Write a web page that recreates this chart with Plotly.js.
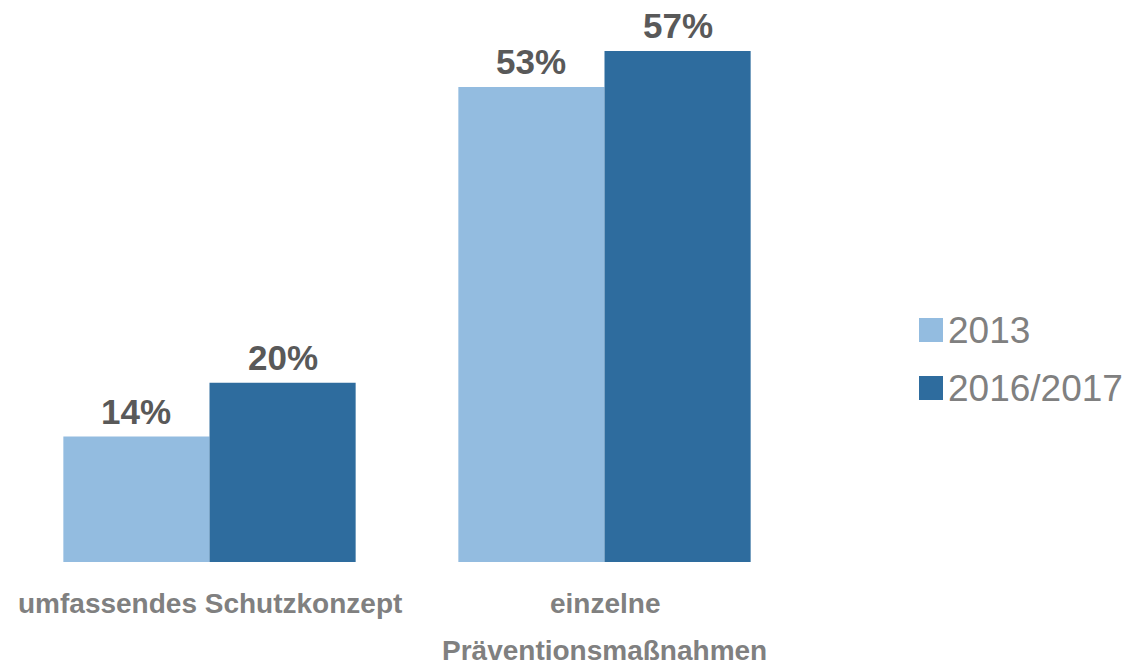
<!DOCTYPE html>
<html>
<head>
<meta charset="utf-8">
<script src="https://cdn.plot.ly/plotly-3.0.1.min.js"></script>
<style>html,body{margin:0;padding:0;background:#fff;}#chart{width:1129px;height:667px;}</style>
</head>
<body>
<div id="chart"></div>
<script>
const categories = ['umfassendes Schutzkonzept', 'einzelne<br>Präventionsmaßnahmen'];
const seriesNames = ['2013', '2016/2017'];
const values2013 = [14, 53];
const values2017 = [20, 57];

const colors = ['#93BCE0', '#2E6C9E'];
const seriesValues = [values2013, values2017];
const FONT = 'Liberation Sans, Arial, sans-serif';
const bargap = 0.26;
const barW = (1 - bargap) / 2;

// plot area geometry (px) used to place legend items in paper coordinates
const M = {l: 12, r: 327, t: 0, b: 105};
const W = 1129, H = 667;
const plotW = W - M.l - M.r, plotH = H - M.t - M.b;
const px2x = p => (p - M.l) / plotW;
const px2y = p => (H - M.b - p) / plotH;

const traces = seriesValues.map((vals, i) => ({
  type: 'bar',
  name: seriesNames[i],
  x: categories,
  y: vals,
  marker: {color: colors[i], line: {width: 0}},
  showlegend: false,
  hoverinfo: 'skip'
}));

const annotations = [];
const shapes = [];

// value labels above bars
seriesValues.forEach((vals, i) => {
  vals.forEach((v, j) => {
    annotations.push({
      x: j + (i === 0 ? -barW / 2 : barW / 2),
      y: v,
      xref: 'x', yref: 'y',
      text: v + '%',
      showarrow: false,
      yanchor: 'bottom',
      yshift: 4,
      font: {family: FONT, size: 35, color: '#595959', weight: 'bold'}
    });
  });
});

// category labels (line spacing as in the reference)
categories.forEach((c, j) => {
  c.split('<br>').forEach((line, k) => {
    annotations.push({
      x: j, y: 0, xref: 'x', yref: 'paper',
      text: line, showarrow: false,
      xanchor: 'center', yanchor: 'top',
      yshift: -24 - k * 47,
      font: {family: FONT, size: 28, color: '#808080', weight: 'bold'}
    });
  });
});

// legend
const legendTop = [318, 376];
seriesNames.forEach((name, i) => {
  const top = legendTop[i];
  shapes.push({
    type: 'rect', xref: 'paper', yref: 'paper',
    x0: px2x(919), x1: px2x(943), y0: px2y(top + 24), y1: px2y(top),
    fillcolor: colors[i], line: {width: 0}
  });
  annotations.push({
    x: px2x(946), y: px2y(top + 12), xref: 'paper', yref: 'paper',
    text: name, showarrow: false, xanchor: 'left', yanchor: 'middle',
    font: {family: FONT, size: 37, color: '#808080'}
  });
});

const layout = {
  width: W, height: H,
  margin: M,
  paper_bgcolor: '#fff', plot_bgcolor: '#fff',
  barmode: 'group', bargap: bargap, bargroupgap: 0,
  xaxis: {
    type: 'category', range: [-0.5, 1.5],
    showline: false, showgrid: false, zeroline: false, ticks: '',
    showticklabels: false
  },
  yaxis: {range: [0, 62.7], visible: false, showgrid: false, zeroline: false},
  showlegend: false,
  annotations: annotations,
  shapes: shapes,
  font: {family: FONT}
};

Plotly.newPlot('chart', traces, layout, {displayModeBar: false, staticPlot: true});
</script>
</body>
</html>
